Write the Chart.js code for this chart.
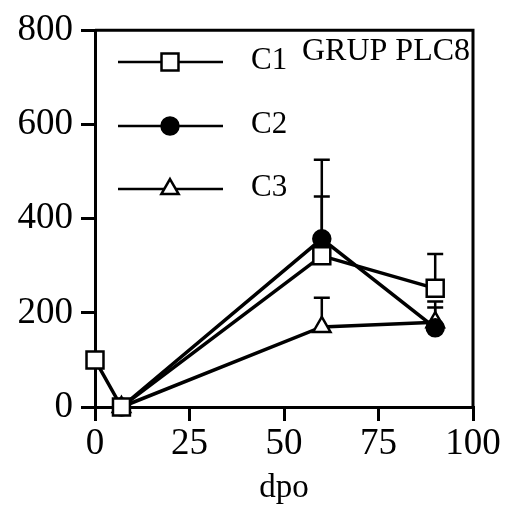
<!DOCTYPE html>
<html>
<head>
<meta charset="utf-8">
<script src="https://cdn.jsdelivr.net/npm/chart.js@4/dist/chart.umd.min.js"></script>
<style>
  html, body { margin: 0; padding: 0; background: #ffffff; }
  #wrap { width: 512px; height: 510px; }
</style>
</head>
<body>
<div id="wrap"><canvas id="c" width="512" height="510"></canvas></div>
<script>
// Series: day post-operation vs. measured value, with upper error limits
const seriesNames = ['C1', 'C2', 'C3'];
const daysC1 = [0, 7, 60, 90];
const valuesC1 = [100, 0, 321, 252];
const upperC1 = [null, null, 447, 325];
const daysC2 = [7, 60, 90];
const valuesC2 = [0, 357, 168];
const upperC2 = [null, 525, 224];
const daysC3 = [7, 60, 90];
const valuesC3 = [0, 170, 180];
const upperC3 = [null, 232, 211];
const xTicks = [0, 25, 50, 75, 100];
const yTicks = [0, 200, 400, 600, 800];
const panelLabel = 'GRUP PLC8';
const xTitle = 'dpo';

const SERIF = '"Liberation Serif", "Times New Roman", serif';
const INK = '#000000';

function pts(xs, ys) { return xs.map((x, i) => ({ x: x, y: ys[i] })); }

const styles = [
  { pointStyle: 'rect', radius: 12, fill: '#ffffff' },
  { pointStyle: 'circle', radius: 8.5, fill: INK },
  { pointStyle: 'triangle', radius: 10, fill: '#ffffff' }
];
const allX = [daysC1, daysC2, daysC3];
const allY = [valuesC1, valuesC2, valuesC3];
const allUpper = [upperC1, upperC2, upperC3];

const datasets = seriesNames.map((name, i) => ({
  label: name,
  data: pts(allX[i], allY[i]),
  upper: allUpper[i],
  clip: false,
  borderColor: INK,
  borderWidth: 3.5,
  tension: 0,
  fill: false,
  pointStyle: styles[i].pointStyle,
  pointRadius: styles[i].radius,
  pointHoverRadius: styles[i].radius,
  pointBackgroundColor: styles[i].fill,
  pointBorderColor: INK,
  pointBorderWidth: 2.5
}));

// Upper error bars with caps, drawn beneath the markers
const errorBars = {
  id: 'errorBars',
  beforeDatasetsDraw(chart) {
    const ctx = chart.ctx;
    const ys = chart.scales.y;
    ctx.save();
    ctx.strokeStyle = INK;
    ctx.lineWidth = 2.5;
    chart.data.datasets.forEach((ds, i) => {
      const meta = chart.getDatasetMeta(i);
      ds.upper.forEach((u, j) => {
        if (u === null || u === undefined) return;
        const p = meta.data[j];
        const yTop = ys.getPixelForValue(u);
        ctx.beginPath();
        ctx.moveTo(p.x, p.y);
        ctx.lineTo(p.x, yTop);
        ctx.moveTo(p.x - 8, yTop);
        ctx.lineTo(p.x + 8, yTop);
        ctx.stroke();
      });
    });
    ctx.restore();
  }
};

// Top and right frame edges
const frame = {
  id: 'frame',
  beforeDatasetsDraw(chart) {
    const { ctx, chartArea: a } = chart;
    ctx.save();
    ctx.strokeStyle = INK;
    ctx.lineWidth = 3;
    ctx.beginPath();
    ctx.moveTo(a.left, a.top);
    ctx.lineTo(a.right, a.top);
    ctx.lineTo(a.right, a.bottom);
    ctx.stroke();
    ctx.restore();
  }
};

// Key with line-through markers, plus the panel label
const keyPanel = {
  id: 'keyPanel',
  afterDraw(chart) {
    const ctx = chart.ctx;
    const rows = [62, 126, 189];
    ctx.save();
    chart.data.datasets.forEach((ds, i) => {
      const y = rows[i];
      ctx.strokeStyle = INK;
      ctx.lineWidth = 2.5;
      ctx.beginPath();
      ctx.moveTo(118, y);
      ctx.lineTo(223, y);
      ctx.stroke();
      ctx.fillStyle = ds.pointBackgroundColor;
      ctx.strokeStyle = INK;
      ctx.lineWidth = 2.5;
      Chart.helpers.drawPoint(ctx, {
        pointStyle: ds.pointStyle,
        radius: ds.pointRadius,
        rotation: 0,
        borderWidth: 2.5
      }, 170, y);
      ctx.fillStyle = INK;
      ctx.font = '31px ' + SERIF;
      ctx.textAlign = 'left';
      ctx.textBaseline = 'alphabetic';
      ctx.fillText(ds.label, 251, y + 7);
    });
    ctx.fillStyle = INK;
    ctx.font = '32px ' + SERIF;
    ctx.textAlign = 'left';
    ctx.textBaseline = 'alphabetic';
    ctx.fillText(panelLabel, 302, 60);
    ctx.restore();
  }
};

new Chart(document.getElementById('c'), {
  type: 'line',
  data: { datasets: datasets },
  plugins: [frame, errorBars, keyPanel],
  options: {
    responsive: false,
    animation: false,
    devicePixelRatio: 1,
    layout: { padding: { left: 0, top: 25, right: 39, bottom: 0 } },
    plugins: { legend: { display: false }, tooltip: { enabled: false }, title: { display: false } },
    scales: {
      x: {
        type: 'linear',
        min: 0, max: 100,
        afterBuildTicks: s => { s.ticks = xTicks.map(v => ({ value: v })); },
        afterFit: s => { s.height = 103; },
        grid: { drawOnChartArea: false, drawTicks: true, tickLength: 14, color: INK, lineWidth: 3 },
        border: { display: true, color: INK, width: 3 },
        ticks: { color: INK, font: { family: SERIF, size: 37 }, padding: 1, maxRotation: 0 },
        title: { display: true, text: xTitle, color: INK, font: { family: SERIF, size: 33 }, padding: { top: 0, bottom: 2 } }
      },
      y: {
        type: 'linear',
        min: 0, max: 800,
        afterBuildTicks: s => { s.ticks = yTicks.map(v => ({ value: v })); },
        afterFit: s => { s.width = 95; },
        grid: { drawOnChartArea: false, drawTicks: true, tickLength: 14, color: INK, lineWidth: 3 },
        border: { display: true, color: INK, width: 3 },
        ticks: { color: INK, font: { family: SERIF, size: 37 }, padding: 8 }
      }
    }
  }
});
</script>
</body>
</html>
